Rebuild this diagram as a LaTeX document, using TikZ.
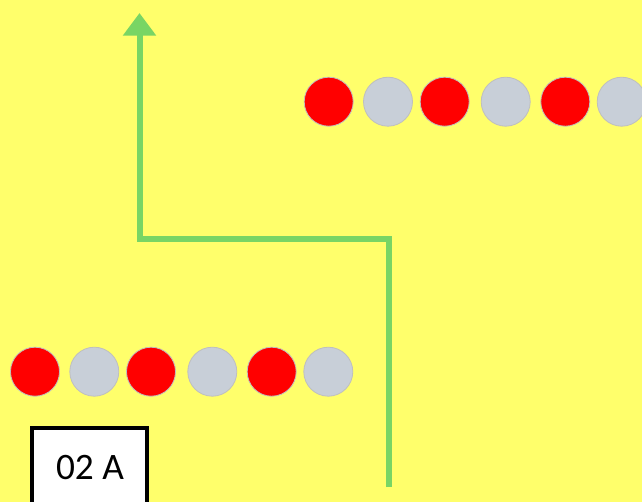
\documentclass[tikz,border=0pt]{standalone}
\usepackage{fontspec}
\setmainfont{Carlito}
\usetikzlibrary{arrows.meta}
\definecolor{bgyellow}{HTML}{FFFF6B}
\definecolor{dotred}{HTML}{FF0000}
\definecolor{dotgrey}{HTML}{C8CFD8}
\definecolor{pathgreen}{HTML}{79D564}
\newlength{\pxu}
\setlength{\pxu}{0.75pt}
\tikzset{
  dot/.style={circle, minimum size=49\pxu, inner sep=0pt, draw=black!25, line width=0.6pt},
  reddot/.style={dot, fill=dotred},
  greydot/.style={dot, fill=dotgrey},
  label box/.style={draw=black, line width=3.3pt, fill=white, minimum width=115\pxu, minimum height=90\pxu, inner sep=0pt},
  route/.style={draw=pathgreen, line width=4.5pt, -{Triangle[length=17pt, width=24pt]}}
}
\begin{document}
\begin{tikzpicture}[x=0.75pt, y=-0.75pt]
\fill[bgyellow] (0,0) rectangle (642,502);
\useasboundingbox (0,0) rectangle (642,502);
% top row
\node[reddot] (t1) at (328.7,101.7) {};
\node[greydot] (t2) at (388,101.7) {};
\node[reddot] (t3) at (444.7,101.7) {};
\node[greydot] (t4) at (505.7,101.7) {};
\node[reddot] (t5) at (565.3,101.7) {};
\node[greydot] (t6) at (621.7,101.7) {};
% bottom row
\node[reddot] (b1) at (35,371.7) {};
\node[greydot] (b2) at (94.3,371.7) {};
\node[reddot] (b3) at (151,371.7) {};
\node[greydot] (b4) at (212.3,371.7) {};
\node[reddot] (b5) at (271.7,371.7) {};
\node[greydot] (b6) at (328.3,371.7) {};
% box
\node[label box, anchor=north west] (box) at (30,426) {};
\node (boxtext) at (90,468) {\fontsize{28}{30}\selectfont 02 A};
% route
\coordinate (start) at (388.5,487);
\coordinate (corner1) at (388.5,239);
\coordinate (corner2) at (139.5,239);
\coordinate (tip) at (139.5,13);
\draw[route, line join=miter] (start) -- (corner1) -- (corner2) -- (tip);
\end{tikzpicture}
\end{document}
